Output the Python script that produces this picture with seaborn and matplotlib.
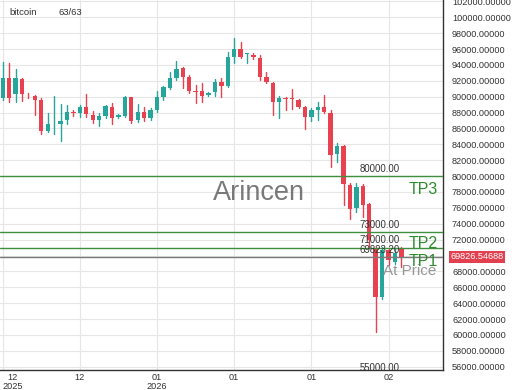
import numpy as np
import pandas as pd
import matplotlib
matplotlib.use("Agg")
import matplotlib.pyplot as plt
import matplotlib.transforms as mtransforms
import seaborn as sns

# ---------------- data ----------------
opens = [89800, 92390, 90340, 92230, 90150, 90050, 89550, 85680, 86500, 86600,
         87030, 88040, 87990, 88740, 87700, 87030, 87610, 88740, 87440, 87610,
         89930, 87070, 88040, 87280, 88330, 89930, 91130, 92390, 93580, 92520,
         90680, 90720, 90210, 90550, 91890, 91290, 95000, 95970, 95340, 95210,
         94870, 92440, 91760, 89300, 89800, 89800, 89590, 88740, 87480, 88330,
         88740, 87990, 82750, 83790, 78880, 75950, 78750, 76490, 70950, 64810,
         70690, 69220, 70910]
highs = [94330, 94210, 93490, 92390, 90430, 90210, 89800, 87910, 90090, 89040,
         88960, 88330, 88960, 90300, 88200, 87910, 88960, 89170, 87860, 90130,
         90000, 89040, 88740, 88540, 90720, 91390, 93150, 94500, 93780, 92730,
         91470, 91690, 90590, 92190, 92390, 95670, 97390, 96930, 95540, 95470,
         95250, 93070, 91800, 90130, 90000, 90930, 89670, 88830, 88540, 89370,
         90180, 88330, 84210, 83900, 79090, 79170, 79010, 76610, 71100, 71030,
         70910, 70910, 71030]
lows = [89580, 89370, 89300, 89460, 89800, 87700, 85270, 85520, 85300, 84420,
        86520, 87610, 87480, 87480, 86650, 86310, 87280, 86520, 87280, 87480,
        86650, 86850, 86940, 87070, 88110, 89580, 90970, 92100, 91130, 90430,
        89170, 89370, 90150, 90090, 90000, 91180, 94280, 94840, 94210, 94710,
        92100, 91690, 87700, 87280, 88330, 88410, 88620, 85930, 86980, 87070,
        87990, 81110, 81810, 76360, 74540, 75520, 74890, 70950, 60400, 64490,
        68810, 68930, 68520]
closes = [92390, 89800, 92320, 90300, 90030, 89620, 85680, 86560, 86620, 86900,
          88040, 87910, 88670, 87780, 87030, 87570, 88770, 87360, 87700, 89930,
          86940, 88040, 87280, 88330, 89930, 91180, 92390, 93490, 92520, 90720,
          90550, 90130, 90500, 91810, 91310, 94960, 95970, 94960, 95470, 94960,
          92520, 91890, 89300, 89800, 89670, 89650, 88740, 87480, 88330, 88740,
          88110, 82660, 83790, 79010, 75860, 78670, 76360, 71950, 64810, 70690,
          69430, 70280, 69826.54688]

symbol = "bitcoin"
counter = "63/63"
xtick_labels = ["12\n2025", "12", "01\n2026", "01", "01", "02"]
level_values = [80000.00, 73000.00, 71000.00, 69823.20, 55000.00]
level_texts = ["80000.00", "73000.00", "71000.00", "69823.20", "55000.00"]
tp_names = ["TP3", "TP2", "TP1"]
last_price = 69826.54688
watermark = "Arincen"

GREEN = "#26a69a"
RED = "#e8414f"
LINE_GREEN = "#3f8f3f"
TP_GREEN = "#2e8b2e"

# ---------------- frame ----------------
df = pd.DataFrame({"o": opens, "h": highs, "l": lows, "c": closes})
df["i"] = np.arange(len(df))
df["dir"] = np.where(df["c"] >= df["o"], "up", "down")

sns.set_style("white")
plt.rcParams["font.family"] = ["Liberation Sans", "DejaVu Sans"]

fig = plt.figure(figsize=(5.2, 3.9), dpi=100)
ax = fig.add_axes([0, 1 - 370 / 390, 443 / 520, 370 / 390])

# wicks through seaborn
wick = pd.concat([
    df[["i", "h", "dir"]].rename(columns={"h": "price"}),
    df[["i", "l", "dir"]].rename(columns={"l": "price"}),
]).sort_values("i")
sns.lineplot(data=wick, x="i", y="price", units="i", estimator=None,
             hue="dir", palette={"up": GREEN, "down": RED},
             legend=False, linewidth=1.0, sort=False, ax=ax, zorder=3)

# bodies
body_bottom = np.minimum(df["o"], df["c"])
body_height = np.maximum(np.abs(df["c"] - df["o"]), 60)
colors = [GREEN if d == "up" else RED for d in df["dir"]]
ax.bar(df["i"], body_height, bottom=body_bottom, width=0.68,
       color=colors, edgecolor="none", zorder=4)

# ---------------- axes ----------------
ax.set_xlim(-0.42, 68.47)
ax.set_ylim(55580, 102180)
ax.set_xlabel("")
ax.set_ylabel("")

ax.yaxis.tick_right()
yt = np.arange(56000, 102001, 2000)
ax.set_yticks(yt)
# the price tag covers the 70000 label
ax.set_yticklabels(["" if v == 70000 else f"{v:.5f}" for v in yt],
                   fontsize=6.6, color="#333333")
ax.tick_params(axis="y", length=0, pad=6.5)

xt = [0, 12, 24, 36, 48, 60]
ax.set_xticks(xt)
ax.set_xticklabels(xtick_labels, fontsize=6.6, color="#333333",
                   linespacing=0.95)
ax.tick_params(axis="x", length=0, pad=2.5)
first = ax.get_xticklabels()[0]
first.set_horizontalalignment("left")
first.set_multialignment("center")

ax.grid(True, color="#e6e6e6", linewidth=0.8, zorder=0)
ax.set_axisbelow(True)
for s in ["top", "left"]:
    ax.spines[s].set_visible(False)
for s in ["right", "bottom"]:
    ax.spines[s].set_visible(True)
    ax.spines[s].set_color("#333333")
    ax.spines[s].set_linewidth(1.0)

# ---------------- levels ----------------
lab_x = 61.8
for v, t in zip(level_values, level_texts):
    if v > 60000:
        col = "#7a7a7a" if t == "69823.20" else LINE_GREEN
        ax.axhline(v, color=col, linewidth=1.0, zorder=5)
    ax.annotate(t, xy=(lab_x, v), xytext=(0, 1.5), textcoords="offset points",
                ha="right", va="bottom", fontsize=6.9, color="#333333",
                zorder=6, annotation_clip=False, clip_on=True)

tp_x = 63.2
tp_offsets = [(80000.00, -9.5), (71000.00, 3.0), (69823.20, -3.0)]
for name, (v, dy) in zip(tp_names, tp_offsets):
    ax.annotate(name, xy=(tp_x, v), xytext=(0, dy), textcoords="offset points",
                ha="left", va="center", fontsize=11.5, color=TP_GREEN, zorder=7)
ax.annotate("At Price", xy=(tp_x + 4.3, 69823.20), xytext=(0, -10.5),
            textcoords="offset points", ha="right", va="center",
            fontsize=11.0, color="#8c8c8c", alpha=0.9, zorder=7)

# watermark
ax.text(0.585, 0.478, watermark, transform=ax.transAxes, ha="center",
        va="center", fontsize=19.5, color="#6a6a6a", alpha=0.9, zorder=2)

# top-left labels
ax.text(9 / 443, 1 - 12.5 / 370, symbol, transform=ax.transAxes, ha="left",
        va="center", fontsize=6.8, color="#333333")
ax.text(59 / 443, 1 - 12.5 / 370, counter, transform=ax.transAxes, ha="left",
        va="center", fontsize=6.8, color="#333333")

# last price tag
trans = mtransforms.blended_transform_factory(ax.transAxes, ax.transData)
ax.text(1.016, last_price, f"{last_price:.5f}", transform=trans, ha="left",
        va="center", fontsize=6.6, color="white", zorder=8, clip_on=False,
        bbox=dict(boxstyle="square,pad=0.15", facecolor="#e2404f",
                  edgecolor="none"))

fig.savefig("out.png", dpi=100)
